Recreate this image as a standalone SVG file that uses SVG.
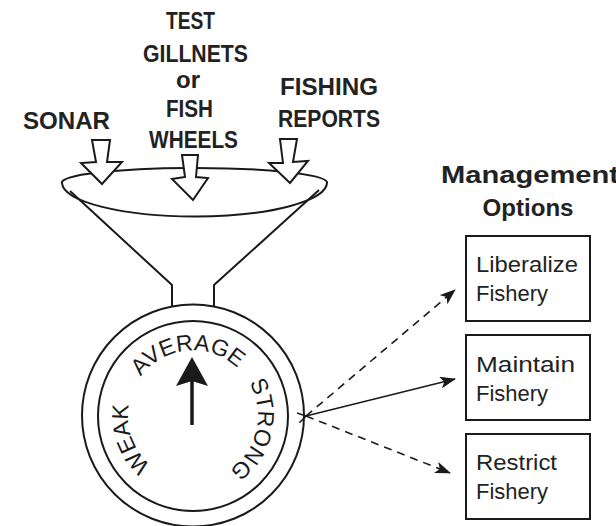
<svg xmlns="http://www.w3.org/2000/svg" width="616" height="526" viewBox="0 0 616 526">
<defs>
<style>
.ln{fill:none;stroke:#1a1a1a;stroke-width:2;stroke-linejoin:round}
.blk{fill:#fff;stroke:#1a1a1a;stroke-width:2;stroke-linejoin:miter}
.lbl{font-family:"Liberation Sans",Arial,sans-serif;font-weight:bold;font-size:23px;fill:#222}
.opt{font-family:"Liberation Sans",Arial,sans-serif;font-size:22px;fill:#222}
.dial{font-family:"Liberation Sans",Arial,sans-serif;font-size:23px;fill:#1a1a1a}
.box{fill:#fff;stroke:#1a1a1a;stroke-width:2}
.con{fill:none;stroke:#1a1a1a;stroke-width:1.6}
.dash{stroke-dasharray:8 6}
</style>
<marker id="ah" viewBox="0 0 16 12" refX="15" refY="6" markerWidth="16" markerHeight="12" markerUnits="userSpaceOnUse" orient="auto">
<path d="M0,0 L16,6 L0,12 L4,6 Z" fill="#1a1a1a"/>
</marker>
<marker id="open" viewBox="0 0 10 12" refX="1" refY="6" markerWidth="10" markerHeight="12" markerUnits="userSpaceOnUse" orient="auto-start-reverse">
<path d="M9,1 L1,6 L9,11" fill="none" stroke="#1a1a1a" stroke-width="1.5"/>
</marker>
<path id="dialPath" d="M193,480.5 A65,65 0 1 1 193,350.5 A65,65 0 1 1 193,480.5"/>
</defs>
<rect width="616" height="526" fill="#fff"/>

<g id="labels">
<text class="lbl" x="23" y="129" textLength="87" lengthAdjust="spacingAndGlyphs">SONAR</text>
<text class="lbl" x="166" y="29" textLength="49" lengthAdjust="spacingAndGlyphs">TEST</text>
<text class="lbl" x="143" y="62" textLength="105" lengthAdjust="spacingAndGlyphs">GILLNETS</text>
<text class="lbl" x="176" y="88" textLength="24" lengthAdjust="spacingAndGlyphs">or</text>
<text class="lbl" x="166" y="117" textLength="47" lengthAdjust="spacingAndGlyphs">FISH</text>
<text class="lbl" x="149" y="148" textLength="89" lengthAdjust="spacingAndGlyphs">WHEELS</text>
<text class="lbl" x="280" y="95" textLength="98" lengthAdjust="spacingAndGlyphs">FISHING</text>
<text class="lbl" x="278" y="127" textLength="102" lengthAdjust="spacingAndGlyphs">REPORTS</text>
</g>

<g id="funnel">
<path class="ln" d="M62,183 A132.5,14.5 0 0 1 327,182 A132.5,34 0 0 1 62,183 Z"/>
<path class="ln" d="M70,191 L172,285 L172,306"/>
<path class="ln" d="M319,190 L214,285 L214,306"/>
</g>

<g id="inputs">
<path class="blk" d="M92,140 L110,140 L107,162 L122,162 L102,184 L81,163 L96,162 Z"/>
<path class="blk" d="M182,155 L198,155 L196,177 L208,178 L193,200 L172,179 L185,177 Z"/>
<path class="blk" d="M280,139 L297,139 L293,162 L308,161 L290,183 L269,163 L283,163 Z"/>
</g>

<g id="gauge">
<circle class="ln" cx="193" cy="415.5" r="111"/>
<circle class="ln" cx="193" cy="416" r="95"/>
<text class="dial"><textPath href="#dialPath" startOffset="19.4%" text-anchor="middle">WEAK</textPath></text>
<text class="dial"><textPath href="#dialPath" startOffset="48.6%" text-anchor="middle">AVERAGE</textPath></text>
<text class="dial"><textPath href="#dialPath" startOffset="78.6%" text-anchor="middle">STRONG</textPath></text>
<line x1="192" y1="425" x2="192" y2="380" stroke="#1a1a1a" stroke-width="3.5"/>
<path d="M192,357 L208,386 L192,381 L176,386 Z" fill="#1a1a1a"/>
</g>

<g id="title">
<text class="lbl" x="530" y="183" text-anchor="middle" textLength="178" lengthAdjust="spacingAndGlyphs">Management</text>
<text class="lbl" x="528" y="216" text-anchor="middle" textLength="91" lengthAdjust="spacingAndGlyphs">Options</text>
</g>

<g id="liberalize">
<rect class="box" x="466" y="236" width="124" height="85"/>
<text class="opt" x="476" y="272" textLength="102" lengthAdjust="spacingAndGlyphs">Liberalize</text>
<text class="opt" x="476" y="301" textLength="72" lengthAdjust="spacingAndGlyphs">Fishery</text>
</g>
<g id="maintain">
<rect class="box" x="466" y="335" width="124" height="85"/>
<text class="opt" x="476" y="372" textLength="99" lengthAdjust="spacingAndGlyphs">Maintain</text>
<text class="opt" x="476" y="401" textLength="72" lengthAdjust="spacingAndGlyphs">Fishery</text>
</g>
<g id="restrict">
<rect class="box" x="466" y="434" width="124" height="85"/>
<text class="opt" x="476" y="470" textLength="81" lengthAdjust="spacingAndGlyphs">Restrict</text>
<text class="opt" x="476" y="499" textLength="72" lengthAdjust="spacingAndGlyphs">Fishery</text>
</g>

<g id="connectors">
<line class="con dash" x1="306" y1="416" x2="455" y2="290" marker-end="url(#ah)"/>
<line class="con" x1="306" y1="416" x2="455" y2="379" marker-end="url(#ah)" marker-start="url(#open)"/>
<line class="con dash" x1="306" y1="416" x2="450" y2="473" marker-end="url(#ah)"/>
</g>
</svg>
